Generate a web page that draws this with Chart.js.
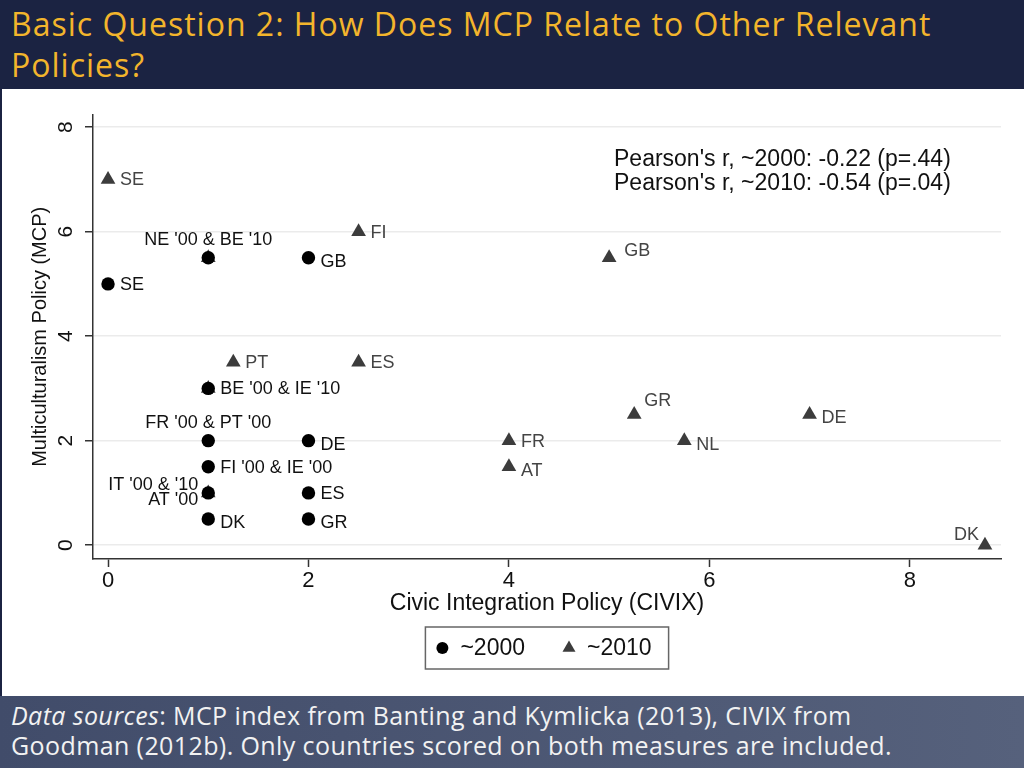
<!DOCTYPE html>
<html>
<head>
<meta charset="utf-8">
<title>MCP vs CIVIX</title>
<script src="https://cdn.jsdelivr.net/npm/chart.js@4.4.1/dist/chart.umd.min.js"></script>
<style>
  html, body { margin: 0; padding: 0; width: 1024px; height: 768px; overflow: hidden; background: #fff; }
  #header {
    height: 89px; box-sizing: border-box; padding: 3px 0 0 11px;
    background: #1b2342; color: #f3b52c; white-space: nowrap;
    font-family: 'Open Sans', sans-serif; font-size: 32px; line-height: 41px; letter-spacing: 1px;
  }
  #plot { height: 607px; background: #fff; border-left: 2px solid #1b2342; box-sizing: border-box; }
  #plot canvas { display: block; }
  #footer {
    height: 72px; box-sizing: border-box; padding: 4px 0 0 11px;
    background: linear-gradient(90deg, #414c6a, #56617c); color: #f2f2f2; white-space: nowrap;
    font-family: 'Open Sans', sans-serif; font-size: 25px; line-height: 30px; letter-spacing: 0.4px;
  }
</style>
</head>
<body>
<div id="header">Basic Question 2: How Does MCP Relate to Other Relevant<br>Policies?</div>
<div id="plot"><canvas id="scatter" width="1022" height="607"></canvas></div>
<div id="footer"><i>Data sources</i>: MCP index from Banting and Kymlicka (2013), CIVIX from<br>Goodman (2012b). Only countries scored on both measures are included.</div>

<script>
// ~2000 (circles)
const civix2000 = [0, 1, 2, 1, 1, 2, 1, 1, 2, 1, 2];
const mcp2000 = [5, 5.5, 5.5, 3, 2, 2, 1.5, 1, 1, 0.5, 0.5];
const labels2000 = ['SE', "NE '00 & BE '10", 'GB', "BE '00 & IE '10", "FR '00 & PT '00", 'DE',
    "FI '00 & IE '00", ["IT '00 & '10", "AT '00"], 'ES', 'DK', 'GR'];
const clock2000 = [3, 12, 4, 3, 12, 4, 3, 9, 3, 4, 4];

// ~2010 (triangles)
const civix2010 = [0, 2.5, 1, 5, 1.25, 2.5, 1, 5.25, 7, 4, 5.75, 4, 1, 8.75];
const mcp2010 = [7, 6, 5.5, 5.5, 3.5, 3.5, 3, 2.5, 2.5, 2, 2, 1.5, 1, 0];
const labels2010 = ['SE', 'FI', '', 'GB', 'PT', 'ES', '', 'GR', 'DE', 'FR', 'NL', 'AT', '', 'DK'];
const clock2010 = [3, 3, 0, 2, 3, 3, 0, 1, 4, 3, 4, 4, 0, 11];

const seriesNames = ['~2000', '~2010'];
const yTicks = [0, 2, 4, 6, 8];
const xTicks = [0, 2, 4, 6, 8];
const pearsonLines = ["Pearson's r, ~2000: -0.22 (p=.44)", "Pearson's r, ~2010: -0.54 (p=.04)"];

const FONT = '"Liberation Sans", Arial, Helvetica, sans-serif';

// label placement by clock position, like Stata's mlabvposition
const clockOffset = {
    3:  { dx: 12, dy: 1, align: 'left' },
    4:  { dx: 12, dy: 4, align: 'left' },
    2:  { dx: 15, dy: -7, align: 'left' },
    1:  { dx: 10, dy: -13, align: 'left' },
    12: { dx: 0, dy: -18, align: 'center' },
    11: { dx: -6, dy: -10, align: 'right' },
    9:  { dx: -10, dy: 0, align: 'right' }
};

const pointLabels = {
    id: 'pointLabels',
    afterDatasetsDraw(chart) {
        const ctx = chart.ctx;
        const texts = [labels2000, labels2010];
        const clocks = [clock2000, clock2010];
        const colors = ['#111', '#444'];
        ctx.save();
        ctx.font = '18px ' + FONT;
        ctx.textBaseline = 'middle';
        chart.data.datasets.forEach((ds, di) => {
            chart.getDatasetMeta(di).data.forEach((pt, i) => {
                const text = texts[di][i];
                const off = clockOffset[clocks[di][i]];
                if (!text || !off) return;
                ctx.fillStyle = colors[di];
                ctx.textAlign = off.align;
                const lines = Array.isArray(text) ? text : [text];
                lines.forEach((line, li) => {
                    const shift = (li - (lines.length - 1) / 2) * 15;
                    ctx.fillText(line, pt.x + off.dx, pt.y + off.dy + shift);
                });
            });
        });
        ctx.restore();
    }
};

const notes = {
    id: 'notes',
    afterDraw(chart) {
        const { ctx, chartArea } = chart;
        ctx.save();
        // Pearson's r
        ctx.font = '23px ' + FONT;
        ctx.fillStyle = '#111';
        ctx.textAlign = 'left';
        ctx.textBaseline = 'middle';
        pearsonLines.forEach((line, i) => {
            ctx.fillText(line, chartArea.left + 521, chartArea.top + 45 + i * 24);
        });

        // legend box under the axis title
        ctx.font = '23px ' + FONT;
        const ds = chart.data.datasets;
        const w = ds.map(d => ctx.measureText(d.label).width);
        const total = 17 + 18 + w[0] + 43 + 19 + w[1] + 17;
        const left = (chartArea.left + chartArea.right) / 2 - total / 2;
        const cy = chartArea.bottom + 89;
        ctx.strokeStyle = '#666';
        ctx.lineWidth = 1.5;
        ctx.strokeRect(left, cy - 21, total, 42);
        let x = left + 17;
        ds.forEach((d, i) => {
            ctx.fillStyle = d.backgroundColor;
            Chart.helpers.drawPoint(ctx, { pointStyle: d.pointStyle, radius: i ? 7.5 : 6, borderWidth: 0, rotation: 0 }, x, cy);
            ctx.fillStyle = '#111';
            ctx.fillText(d.label, x + 18, cy + 1);
            x += 18 + w[i] + 43 + 1;
        });
        ctx.restore();
    }
};

new Chart(document.getElementById('scatter'), {
    type: 'scatter',
    data: {
        datasets: [
            {
                label: seriesNames[0],
                data: civix2000.map((x, i) => ({ x, y: mcp2000[i] })),
                pointStyle: 'circle',
                pointRadius: 6.7,
                backgroundColor: '#000',
                borderWidth: 0
            },
            {
                label: seriesNames[1],
                data: civix2010.map((x, i) => ({ x, y: mcp2010[i] })),
                pointStyle: 'triangle',
                pointRadius: 8.5,
                backgroundColor: '#3c3c3c',
                borderWidth: 0
            }
        ]
    },
    options: {
        responsive: false,
        animation: false,
        events: [],
        layout: { padding: { top: 21, right: 23, left: 0, bottom: 0 } },
        plugins: { legend: { display: false }, tooltip: { enabled: false } },
        scales: {
            x: {
                type: 'linear',
                min: -0.15,
                max: 8.91,
                afterBuildTicks: s => { s.ticks = xTicks.map(v => ({ value: v })); },
                afterFit: s => { s.height = 137; },
                ticks: { color: '#111', font: { family: FONT, size: 22 }, padding: 1 },
                grid: { drawOnChartArea: false, tickLength: 8, tickColor: '#333', tickWidth: 1.5 },
                border: { color: '#333', width: 1.5 },
                title: {
                    display: true,
                    text: 'Civic Integration Policy (CIVIX)',
                    color: '#111',
                    font: { family: FONT, size: 23 },
                    padding: { top: 0, bottom: 79 }
                }
            },
            y: {
                type: 'linear',
                min: -0.265,
                max: 8.24,
                afterBuildTicks: s => { s.ticks = yTicks.map(v => ({ value: v })); },
                afterFit: s => { s.width = 91; },
                ticks: {
                    color: '#111', font: { family: FONT, size: 21 },
                    minRotation: 90, maxRotation: 90, crossAlign: 'center', padding: 13
                },
                grid: { color: '#ebebeb', lineWidth: 1.5, tickLength: 8, tickColor: '#333', tickWidth: 1.5 },
                border: { color: '#333', width: 1.5 },
                title: {
                    display: true,
                    text: 'Multiculturalism Policy (MCP)',
                    color: '#111',
                    font: { family: FONT, size: 20 },
                    padding: { top: 26, bottom: 0 }
                }
            }
        }
    },
    plugins: [pointLabels, notes]
});
</script>
</body>
</html>
